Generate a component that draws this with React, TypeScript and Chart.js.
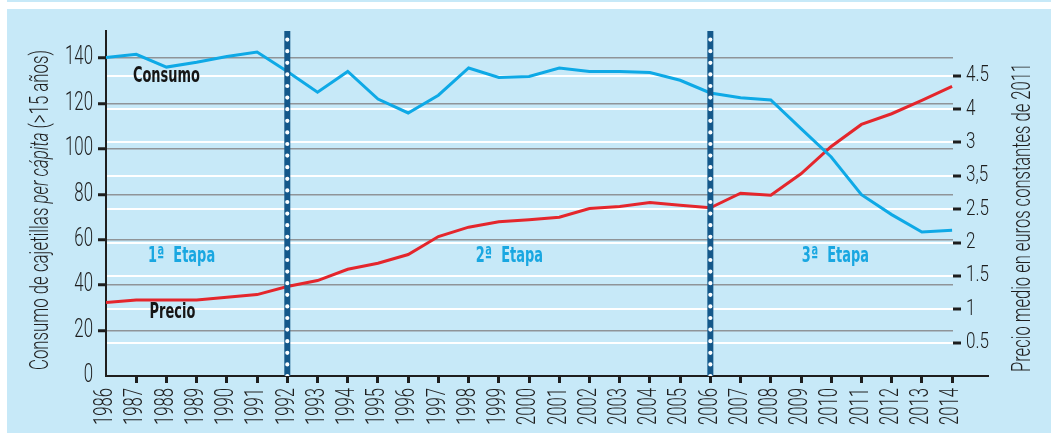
import React, { useEffect, useRef } from "react";
import { Chart, registerables } from "chart.js";

Chart.register(...registerables);

// ---------- data ----------
const years = [
  1986, 1987, 1988, 1989, 1990, 1991, 1992, 1993, 1994, 1995,
  1996, 1997, 1998, 1999, 2000, 2001, 2002, 2003, 2004, 2005,
  2006, 2007, 2008, 2009, 2010, 2011, 2012, 2013, 2014,
];
const consumo = [
  140.3, 141.7, 136.1, 138.2, 140.8, 142.7, 134.2, 125.0, 134.2, 122.0,
  115.9, 123.7, 135.7, 131.5, 132.0, 135.7, 134.2, 134.2, 133.7, 130.3,
  124.7, 122.6, 121.6, 109.0, 96.5, 79.9, 71.1, 63.4, 64.2,
];
const precio = [
  1.10, 1.14, 1.14, 1.14, 1.18, 1.22, 1.34, 1.43, 1.60, 1.69,
  1.82, 2.09, 2.23, 2.31, 2.34, 2.38, 2.51, 2.54, 2.60, 2.56,
  2.52, 2.74, 2.71, 3.03, 3.44, 3.77, 3.93, 4.13, 4.34,
];
const leftTicks = [0, 20, 40, 60, 80, 100, 120, 140];
const rightTicks = [0.5, 1, 1.5, 2, 2.5, 3, 3.5, 4, 4.5];
const rightTickLabels = ["0.5", "1", "1.5", "2", "2.5", "3,5", "3", "4", "4.5"];
const stageBoundaries = [1992, 2006];
const stageNames = ["1ª  Etapa", "2ª  Etapa", "3ª  Etapa"];
const stageCenters = [1988.5, 1999.35, 2010.14];
const stageLabelLevel = 50.1;
const seriesNames = ["Consumo", "Precio"];
const seriesNameYears = [1988.0, 1988.2];
const seriesNameLevels = [129.5, 25.4];
const leftTitleParts = ["Consumo de cajetillas ", "per cápita", " (>15 años)"];
const rightTitle = "Precio medio en euros constantes de 2011";

const X_MIN = 1986;
const X_MAX = 2014.03;
const LEFT_MAX = 152;
const RIGHT_MAX = 5.17;

// ---------- styles ----------
const PANEL_BG = "#c7e9f8";
const BLUE = "#0ea9e6";
const RED = "#e4262c";
const DARK = "#14588a";
const GRAY = "#8f9498";
const INK = "#1e1e1e";
const ETAPA = "#19a7e1";
const LIGHT = 'Roboto, "DejaVu Sans Condensed", sans-serif';
const BOLD = '"DejaVu Sans Condensed", "DejaVu Sans", sans-serif';

function measure(ctx: CanvasRenderingContext2D, font: string, text: string) {
  ctx.save();
  ctx.font = font;
  const w = ctx.measureText(text).width;
  ctx.restore();
  return w;
}

function drawText(
  ctx: CanvasRenderingContext2D,
  text: string,
  x: number,
  y: number,
  font: string,
  color: string,
  sx: number,
  rot: number,
  align: CanvasTextAlign,
  baseline: CanvasTextBaseline
) {
  ctx.save();
  ctx.translate(x, y);
  if (rot) ctx.rotate(rot);
  ctx.scale(sx, 1);
  ctx.font = font;
  ctx.fillStyle = color;
  ctx.textAlign = align;
  ctx.textBaseline = baseline;
  ctx.fillText(text, 0, 0);
  ctx.restore();
}

function drawRotatedRun(
  ctx: CanvasRenderingContext2D,
  parts: { text: string; font: string }[],
  baseX: number,
  centerY: number,
  length: number,
  color: string
) {
  const widths = parts.map((p) => measure(ctx, p.font, p.text));
  const total = widths.reduce((a, b) => a + b, 0);
  const sx = length / total;
  ctx.save();
  ctx.translate(baseX, centerY + length / 2);
  ctx.rotate(-Math.PI / 2);
  ctx.scale(sx, 1);
  ctx.fillStyle = color;
  ctx.textAlign = "left";
  ctx.textBaseline = "alphabetic";
  let off = 0;
  parts.forEach((p, i) => {
    ctx.font = p.font;
    ctx.fillText(p.text, off, 0);
    off += widths[i];
  });
  ctx.restore();
}

const decorPlugin = {
  id: "decor",
  afterDraw(chart: any) {
    const ctx: CanvasRenderingContext2D = chart.ctx;
    const area = chart.chartArea;
    const xs = chart.scales.x;
    const ys = chart.scales.y;
    const y1s = chart.scales.y1;

    // x-axis line continues past the plot
    ctx.save();
    ctx.strokeStyle = INK;
    ctx.lineWidth = 2;
    ctx.beginPath();
    ctx.moveTo(area.right, area.bottom);
    ctx.lineTo(area.right + 36, area.bottom);
    ctx.stroke();
    ctx.restore();

    // x tick labels
    const xFont = `300 25px ${LIGHT}`;
    const sxX = 37 / measure(ctx, xFont, "1986");
    xs.ticks.forEach((t: any) => {
      const px = xs.getPixelForValue(t.value);
      drawText(ctx, String(t.value), px, area.bottom + 12, xFont, INK, sxX, -Math.PI / 2, "right", "middle");
    });

    // left tick labels
    const yFont = `300 25px ${LIGHT}`;
    const sxY = 28 / measure(ctx, yFont, "140");
    ys.ticks.forEach((t: any) => {
      const py = ys.getPixelForValue(t.value);
      drawText(ctx, String(t.value), area.left - 13, py, yFont, INK, sxY, 0, "right", "middle");
    });

    // right tick labels
    const rFont = `300 22px ${LIGHT}`;
    const sxR = 23 / measure(ctx, rFont, "4.5");
    y1s.ticks.forEach((t: any, i: number) => {
      const py = y1s.getPixelForValue(t.value);
      drawText(ctx, rightTickLabels[i], area.right + 13, py, rFont, INK, sxR, 0, "left", "middle");
    });

    // axis titles
    const tFont = `300 26px ${LIGHT}`;
    const tFontI = `italic 300 26px ${LIGHT}`;
    drawRotatedRun(
      ctx,
      [
        { text: leftTitleParts[0], font: tFont },
        { text: leftTitleParts[1], font: tFontI },
        { text: leftTitleParts[2], font: tFont },
      ],
      41,
      201,
      320,
      INK
    );
    drawRotatedRun(ctx, [{ text: rightTitle, font: tFont }], 1023, 208.5, 309, INK);

    // in-plot labels
    const bFont = `bold 21px ${BOLD}`;
    const sxB = 67 / measure(ctx, bFont, "Consumo");
    seriesNames.forEach((name, i) => {
      drawText(
        ctx,
        name,
        xs.getPixelForValue(seriesNameYears[i]),
        ys.getPixelForValue(seriesNameLevels[i]),
        bFont,
        "#151515",
        sxB,
        0,
        "center",
        "alphabetic"
      );
    });
    stageNames.forEach((name, i) => {
      drawText(
        ctx,
        name,
        xs.getPixelForValue(stageCenters[i]),
        ys.getPixelForValue(stageLabelLevel),
        bFont,
        ETAPA,
        sxB,
        0,
        "center",
        "alphabetic"
      );
    });
  },
};

export default function App() {
  const canvasRef = useRef<HTMLCanvasElement>(null);

  useEffect(() => {
    const canvas = canvasRef.current;
    if (!canvas) return;

    const boundaryDark = stageBoundaries.map((b) => ({
      data: [
        { x: b, y: 0 },
        { x: b, y: LEFT_MAX },
      ],
      yAxisID: "y",
      borderColor: DARK,
      borderWidth: 6,
      pointRadius: 0,
      borderCapStyle: "butt" as const,
      order: 1,
    }));
    const boundaryDots = stageBoundaries.map((b) => ({
      data: [
        { x: b, y: 0 },
        { x: b, y: LEFT_MAX },
      ],
      yAxisID: "y",
      borderColor: "#ffffff",
      borderWidth: 4.2,
      borderDash: [0, 11.6],
      borderCapStyle: "round" as const,
      pointRadius: 0,
      order: 0,
    }));

    const chart = new Chart(canvas, {
      type: "line",
      data: {
        datasets: [
          ...boundaryDots,
          ...boundaryDark,
          {
            label: "Consumo",
            data: years.map((yr, i) => ({ x: yr, y: consumo[i] })),
            yAxisID: "y",
            borderColor: BLUE,
            borderWidth: 3,
            pointRadius: 0,
            tension: 0,
            order: 2,
          },
          {
            label: "Precio",
            data: years.map((yr, i) => ({ x: yr, y: precio[i] })),
            yAxisID: "y1",
            borderColor: RED,
            borderWidth: 3,
            pointRadius: 0,
            tension: 0,
            order: 3,
          },
        ] as any,
      },
      options: {
        responsive: false,
        maintainAspectRatio: false,
        devicePixelRatio: 1,
        animation: false,
        events: [],
        layout: { padding: { top: 22, left: 0, right: 0, bottom: 0 } },
        plugins: {
          legend: { display: false },
          tooltip: { enabled: false },
          title: { display: false },
        },
        scales: {
          x: {
            type: "linear",
            min: X_MIN,
            max: X_MAX,
            afterBuildTicks: (s: any) => {
              s.ticks = years.map((v) => ({ value: v }));
            },
            afterFit: (s: any) => {
              s.height = 57;
            },
            ticks: { display: false },
            grid: {
              drawOnChartArea: false,
              drawTicks: true,
              tickLength: 7,
              tickWidth: 3,
              tickColor: (c: any) => (c.tick && c.tick.value === X_MIN ? "rgba(0,0,0,0)" : INK),
            },
            border: { display: true, color: INK, width: 2 },
          },
          y: {
            type: "linear",
            position: "left",
            min: 0,
            max: LEFT_MAX,
            afterBuildTicks: (s: any) => {
              s.ticks = leftTicks.map((v) => ({ value: v }));
            },
            afterFit: (s: any) => {
              s.width = 99;
            },
            ticks: { display: false },
            grid: {
              color: (c: any) => (c.tick && c.tick.value === 0 ? "rgba(0,0,0,0)" : GRAY),
              lineWidth: 1.5,
              drawTicks: true,
              tickLength: 8,
              tickWidth: 3,
              tickColor: (c: any) => (c.tick && c.tick.value === 0 ? "rgba(0,0,0,0)" : INK),
            },
            border: { display: true, color: INK, width: 2 },
          },
          y1: {
            type: "linear",
            position: "right",
            min: 0,
            max: RIGHT_MAX,
            afterBuildTicks: (s: any) => {
              s.ticks = rightTicks.map((v) => ({ value: v }));
            },
            afterFit: (s: any) => {
              s.width = 98;
            },
            ticks: { display: false },
            grid: {
              color: "#ffffff",
              lineWidth: 2,
              drawOnChartArea: true,
              drawTicks: true,
              tickLength: 8,
              tickWidth: 3,
              tickColor: INK,
            },
            border: { display: false },
          },
        },
      } as any,
      plugins: [decorPlugin],
    });

    return () => chart.destroy();
  }, []);

  return (
    <div
      style={{
        position: "absolute",
        left: 0,
        top: 0,
        width: 1051,
        height: 433,
        background: "#ffffff",
        overflow: "hidden",
      }}
    >
      <div style={{ position: "absolute", left: 7, top: 0, width: 1044, height: 2, background: PANEL_BG }} />
      <div style={{ position: "absolute", left: 7, top: 9, width: 1044, height: 424, background: PANEL_BG }}>
        <canvas
          ref={canvasRef}
          width={1044}
          height={424}
          style={{ display: "block", width: 1044, height: 424 }}
        />
      </div>
    </div>
  );
}
